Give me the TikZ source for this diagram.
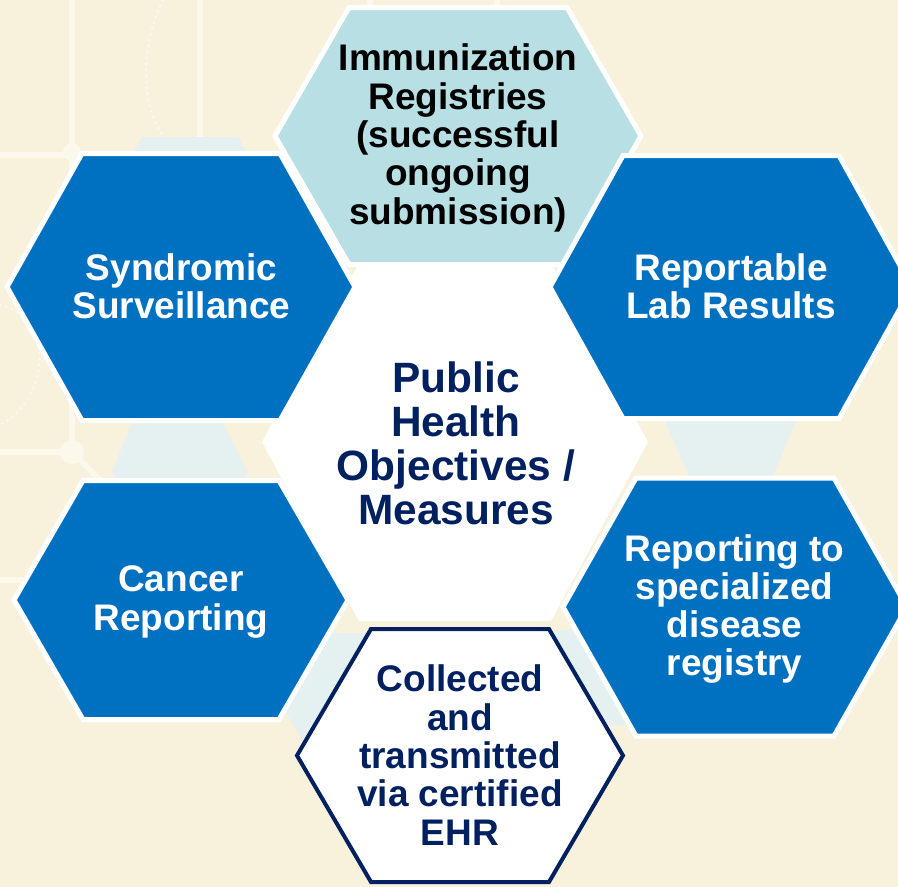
\documentclass[tikz,border=0pt]{standalone}
\usepackage{fontspec}
\setmainfont{Liberation Sans}
\definecolor{bg}{HTML}{F8F1DC}
\definecolor{patcol}{HTML}{FCF8EC}
\definecolor{pale}{HTML}{E5F1F1}
\definecolor{hexblue}{HTML}{0070C0}
\definecolor{teal}{HTML}{B8DFE3}
\definecolor{navy}{HTML}{002060}
\newcommand\hexshape[6]{\path[#6] ({#1-#3},#2) -- ({#1-#4},{#2-#5}) -- ({#1+#4},{#2-#5}) -- ({#1+#3},#2) -- ({#1+#4},{#2+#5}) -- ({#1-#4},{#2+#5}) -- cycle;}
\tikzset{
  patline/.style={draw=patcol, line width=6pt},
  patdot/.style={draw=patcol, line width=2.5pt, dash pattern=on 1pt off 5pt, line cap=round},
  paleshape/.style={fill=pale},
  bluehex/.style={fill=hexblue, draw=white, line width=5pt, line join=miter},
  tophex/.style={fill=teal, draw=white, line width=5pt, line join=miter},
  centerhex/.style={fill=white},
  ehrhex/.style={fill=white, draw=navy, line width=4pt, line join=miter},
  txt/.style={align=center, inner sep=0pt, font=\bfseries\fontsize{37}{38.3}\selectfont},
  bigtxt/.style={align=center, inner sep=0pt, font=\bfseries\fontsize{42.4}{44}\selectfont}
}
\begin{document}
\begin{tikzpicture}[x=1pt,y=-1pt]
\useasboundingbox (0,0) rectangle (898,887);
\clip (0,0) rectangle (898,887);
\fill[bg] (0,0) rectangle (898,887);
% faint background pattern
\draw[patline] (72,0) -- (72,452);
\draw[patline] (200,0) -- (200,140);
\draw[patline] (0,155) -- (90,155);
\draw[patline] (0,452) -- (72,452) -- (105,485);
\draw[patline] (0,580) -- (40,580);
\draw[patline] (370,0) -- (370,12);
\draw[patline] (497,0) -- (497,12);
\fill[patcol] (72,152) circle (9pt);
\fill[patcol] (72,452) circle (12pt);
\draw[patdot] (163,0) .. controls (138,50) and (143,110) .. (163,135);
\draw[patdot] (0,305) .. controls (50,315) and (55,395) .. (0,425);
% pale connector pieces
\path[paleshape] (142,137) -- (238,137) -- (262,180) -- (118,180) -- cycle;
\path[paleshape] (133,420) -- (222,420) -- (248,472) -- (240,490) -- (120,490) -- (112,472) -- cycle;
\path[paleshape] (660,410) -- (800,410) -- (773,478) -- (690,478) -- cycle;
\path[paleshape] (272,633) -- (372,633) -- (307,748) -- (272,690) -- cycle;
\path[paleshape] (545,630) -- (615,630) -- (640,725) -- (595,725) -- cycle;
% hexagons
\hexshape{455}{442}{193}{96}{179}{centerhex}
\hexshape{458}{136}{183}{109}{128.5}{tophex}
\hexshape{181}{287}{174}{99}{133.5}{bluehex}
\hexshape{731}{287}{181}{108}{131.5}{bluehex}
\hexshape{735}{607}{172}{99}{129}{bluehex}
\hexshape{181}{600}{167}{98}{119.5}{bluehex}
\hexshape{460}{755.5}{163}{89}{126.5}{ehrhex}
% texts
\node[txt, text=black] (imm) at (458,138) {Immunization\\Registries\\(successful\\ongoing\\submission)};
\node[txt, text=white] (synd) at (181.5,286) {Syndromic\\Surveillance};
\node[txt, text=white] (lab) at (731,286.5) {Reportable\\Lab Results};
\node[bigtxt, text=navy] (ph) at (456,443.5) {Public\\Health\\Objectives /\\Measures};
\node[txt, text=white] (canc) at (181,602) {Cancer\\Reporting};
\node[txt, text=white] (spec) at (734.5,609) {Reporting to\\specialized\\disease\\registry};
\node[txt, text=navy] (ehr) at (460,755) {Collected\\and\\transmitted\\via certified\\EHR};
\end{tikzpicture}
\end{document}
